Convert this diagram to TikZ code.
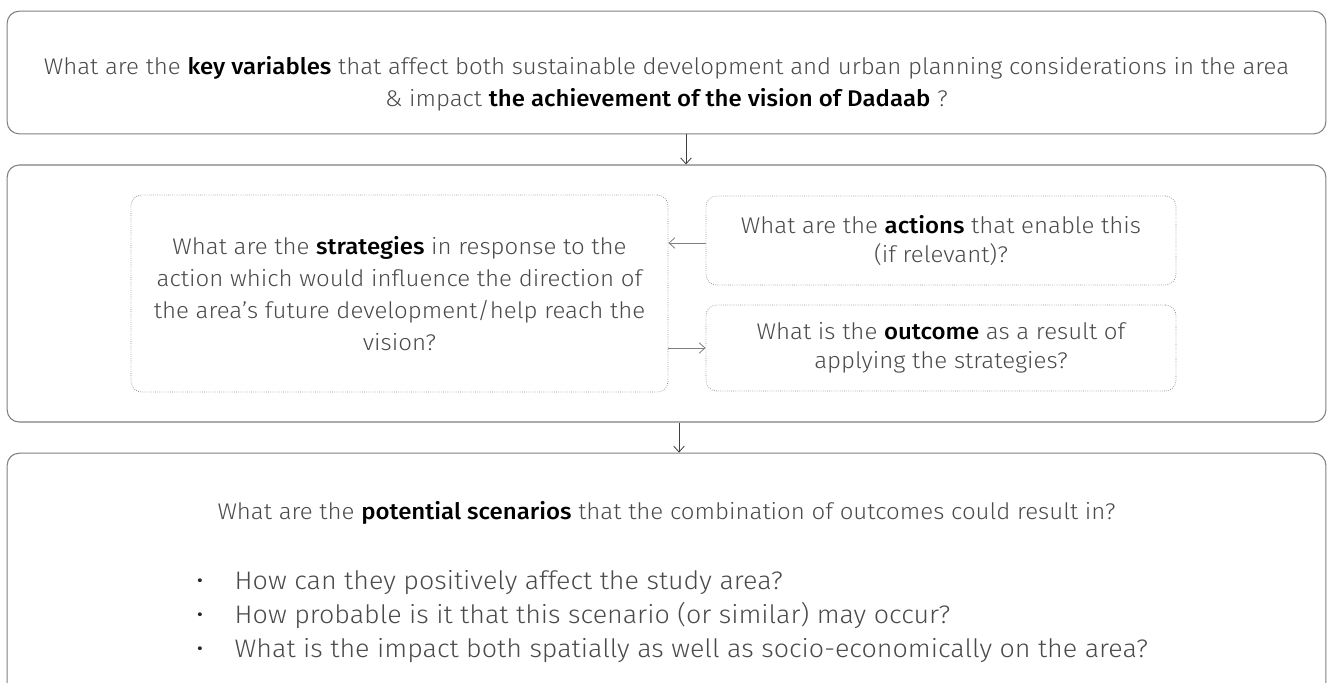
\documentclass[tikz,border=0pt]{standalone}
\usepackage{fontspec}
\setmainfont{Fira Sans Light}[BoldFont={Fira Sans Medium}, FakeStretch=1.06]
\usetikzlibrary{arrows.meta}
\definecolor{txt}{HTML}{4A4A4A}
\definecolor{frame}{HTML}{808080}
\tikzset{
  outerbox/.style={draw=frame, line width=0.8pt, rounded corners=9pt, minimum width=989pt, inner sep=0pt},
  innerbox/.style={draw=frame!90, line width=0.6pt, dash pattern=on 0.5pt off 1.1pt, rounded corners=8pt, inner sep=0pt},
  qtext/.style={text=txt, font=\fontsize{17}{24}\selectfont, align=center},
  smalltext/.style={text=txt, font=\fontsize{17}{22}\selectfont, align=center},
  bullettext/.style={text=txt, font=\fontsize{19}{25}\selectfont, anchor=base west},
  bulletdot/.style={text=black!85, font=\fontsize{19}{25}\selectfont, anchor=base},
  flow/.style={draw=black!75, line width=0.6pt, -{Straight Barb[length=4.5pt,width=8pt]}},
  sideflow/.style={draw=frame, line width=0.6pt, -{Straight Barb[length=4.5pt,width=8pt]}},
}
\begin{document}
\begin{tikzpicture}[x=0.75pt,y=-0.75pt]
\useasboundingbox (0,0) rectangle (1333,682);
% outer boxes
\node[outerbox, minimum height=92pt] (box1) at (666.5,72.5) {};
\node[qtext] (t1) at (666.5,84) {What are the \textbf{\color{black}key variables} that affect both sustainable development and urban planning considerations in the area\\ \& impact \textbf{\color{black}the achievement of the vision of Dadaab} ?};
\node[outerbox, minimum height=192.75pt] (box2) at (666.5,293.5) {};
\node[outerbox, minimum height=200pt] (box3) at (666.5,586.5) {};
% inner boxes
\node[innerbox, minimum width=402.75pt, minimum height=147.75pt, qtext] (strat) at (399.5,293.5) {What are the \textbf{\color{black}strategies} in response to the\\action which would influence the direction of\\the area’s future development/help reach the\\vision?};
\node[innerbox, minimum width=352.5pt, minimum height=66.75pt, smalltext] (act) at (941,240.5) {What are the \textbf{\color{black}actions} that enable this\\(if relevant)?};
\node[innerbox, minimum width=352.5pt, minimum height=64.5pt, smalltext] (out) at (941,348) {What is the \textbf{\color{black}outcome} as a result of\\applying the strategies?};
% box3 texts
\node[qtext] (t3) at (666.5,513) {What are the \textbf{\color{black}potential scenarios} that the combination of outcomes could result in?};
\node[bullettext] (b1) at (230,589) {How can they positively affect the study area?};
\node[bullettext] (b2) at (230,623) {How probable is it that this scenario (or similar) may occur?};
\node[bullettext] (b3) at (230,657) {What is the impact both spatially as well as socio-economically on the area?};
\foreach \n in {b1,b2,b3} \node[bulletdot] at (200,0 |- \n.base) {•};
% connectors
\coordinate (a1) at (686,0);
\coordinate (a2) at (679,0);
\draw[flow] (box1.south -| a1) -- (box2.north -| a1);
\draw[flow] (box2.south -| a2) -- (box3.north -| a2);
\coordinate (y1) at (0,243);
\coordinate (y2) at (0,348);
\draw[sideflow] (act.west |- y1) -- (strat.east |- y1);
\draw[sideflow] (strat.east |- y2) -- (out.west |- y2);
\end{tikzpicture}
\end{document}
